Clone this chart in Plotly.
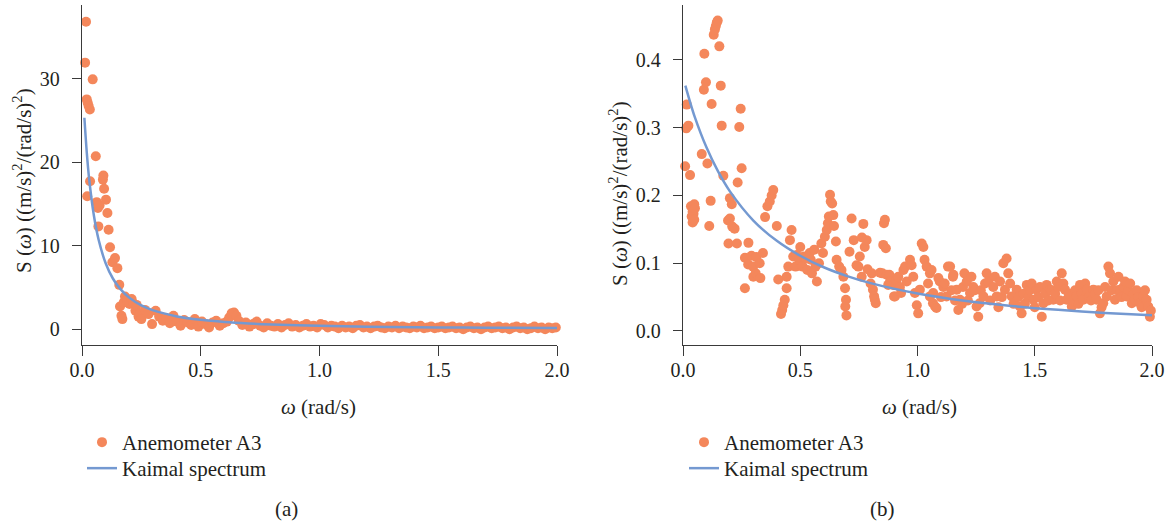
import plotly.graph_objects as go

# ---------------- data ----------------
omega_a = [0.013, 0.017, 0.020, 0.022, 0.024, 0.028, 0.033, 0.034, 0.045, 0.058,
           0.062, 0.067, 0.069, 0.074, 0.088, 0.090, 0.093, 0.101, 0.107, 0.112,
           0.118, 0.128, 0.139, 0.149, 0.157, 0.160, 0.166, 0.170, 0.176, 0.181,
           0.190, 0.200, 0.209, 0.216, 0.225, 0.230, 0.238, 0.244,
           0.250, 0.265, 0.280, 0.295, 0.310, 0.325, 0.340, 0.355, 0.370, 0.385,
           0.400, 0.415, 0.430, 0.445, 0.460, 0.475, 0.490, 0.505, 0.520, 0.535,
           0.550, 0.565, 0.580, 0.595, 0.610, 0.620, 0.630, 0.640, 0.650, 0.660,
           0.675, 0.690, 0.705, 0.720, 0.735, 0.750, 0.765, 0.780, 0.795, 0.810,
           0.825, 0.840, 0.855, 0.870, 0.885, 0.900, 0.915, 0.930, 0.945, 0.960,
           0.975, 0.990, 1.005, 1.020, 1.035, 1.050, 1.065, 1.080, 1.095, 1.110,
           1.125, 1.140, 1.155, 1.170, 1.185, 1.200, 1.215, 1.230, 1.245, 1.260,
           1.275, 1.290, 1.305, 1.320, 1.335, 1.350, 1.365, 1.380, 1.395, 1.410,
           1.425, 1.440, 1.455, 1.470, 1.485, 1.500, 1.515, 1.530, 1.545, 1.560,
           1.575, 1.590, 1.605, 1.620, 1.635, 1.650, 1.665, 1.680, 1.695, 1.710,
           1.725, 1.740, 1.755, 1.770, 1.785, 1.800, 1.815, 1.830, 1.845, 1.860,
           1.875, 1.890, 1.905, 1.920, 1.935, 1.950, 1.965, 1.980, 1.995]
s_a = [31.9, 36.8, 27.5, 15.9, 27.1, 26.7, 26.3, 17.7, 29.9, 20.7,
       15.2, 14.5, 12.3, 14.8, 17.9, 18.4, 16.8, 15.5, 13.9, 11.9,
       9.8, 8.0, 8.5, 7.3, 5.3, 2.7, 1.6, 1.2, 3.2, 3.9,
       3.5, 3.0, 3.6, 3.1, 2.2, 2.9, 1.5, 1.9,
       1.2, 2.3, 1.8, 0.6, 2.2, 1.5, 1.0, 1.3, 0.7, 1.6,
       0.9, 0.4, 1.1, 0.8, 0.5, 1.2, 0.3, 0.9, 0.6, 0.2,
       0.8, 1.0, 0.4, 0.7, 0.9, 1.4, 1.9, 2.0, 1.6, 1.0,
       0.5, 0.8, 0.3, 0.6, 0.9, 0.4, 0.2, 0.7, 0.4, 0.3,
       0.6, 0.2, 0.5, 0.7, 0.3, 0.5, 0.2, 0.4, 0.6, 0.3,
       0.4, 0.2, 0.6, 0.5, 0.2, 0.4, 0.3, 0.1, 0.4, 0.2,
       0.3, 0.1, 0.4, 0.5, 0.2, 0.3, 0.1, 0.3, 0.4, 0.2,
       0.1, 0.3, 0.2, 0.4, 0.1, 0.3, 0.2, 0.1, 0.3, 0.2,
       0.4, 0.1, 0.2, 0.3, 0.1, 0.2, 0.3, 0.1, 0.2, 0.3,
       0.1, 0.2, 0.0, 0.2, 0.3, 0.1, 0.2, 0.0, 0.2, 0.3,
       0.1, 0.2, 0.3, 0.1, 0.2, 0.0, 0.2, 0.3, 0.1, 0.2,
       0.0, 0.1, 0.3, 0.1, 0.2, 0.0, 0.2, 0.1, 0.2]

kaimal_omega_a = [0.01, 0.02, 0.03, 0.05, 0.07, 0.10, 0.13, 0.16, 0.20, 0.25, 0.30,
                  0.40, 0.50, 0.60, 0.70, 0.80, 1.00, 1.20, 1.40, 1.60, 1.80, 2.00]
kaimal_s_a = [25.3, 21.2, 18.0, 13.6, 10.7, 7.86, 6.06, 4.85, 3.74, 2.84, 2.24,
              1.52, 1.11, 0.85, 0.675, 0.55, 0.39, 0.295, 0.231, 0.188, 0.155, 0.131]

omega_b = [0.009, 0.014, 0.016, 0.023, 0.030, 0.034, 0.037, 0.041, 0.041, 0.045,
           0.048, 0.048, 0.051, 0.080, 0.089, 0.091, 0.098, 0.104, 0.112, 0.118,
           0.122, 0.131, 0.136, 0.140, 0.144, 0.148, 0.155, 0.161, 0.165, 0.172,
           0.192, 0.194, 0.200, 0.200, 0.208, 0.210, 0.220, 0.230, 0.233, 0.240,
           0.246, 0.250, 0.264, 0.264, 0.278, 0.279, 0.292, 0.299, 0.300, 0.310,
           0.313, 0.327, 0.330, 0.341, 0.350, 0.360, 0.370, 0.378, 0.385, 0.400,
           0.406, 0.418, 0.423, 0.428, 0.434, 0.442, 0.442, 0.449, 0.456, 0.463,
           0.470, 0.480, 0.485, 0.495, 0.500, 0.510, 0.515, 0.525, 0.530, 0.540,
           0.545, 0.550, 0.560, 0.565, 0.571, 0.580, 0.590, 0.597, 0.605, 0.613,
           0.618, 0.622, 0.627, 0.630, 0.636, 0.641, 0.644, 0.652, 0.655, 0.666,
           0.676, 0.684, 0.691, 0.692, 0.695, 0.697, 0.710, 0.719, 0.728, 0.740,
           0.748, 0.754, 0.762, 0.763, 0.769, 0.775, 0.783, 0.787, 0.800, 0.805,
           0.810, 0.815, 0.818, 0.822, 0.840, 0.850, 0.854, 0.857, 0.861, 0.865,
           0.869, 0.875, 0.880, 0.883, 0.897, 0.900, 0.904, 0.910, 0.918, 0.925,
           0.930, 0.940, 0.947, 0.954, 0.968, 0.975, 0.982, 0.989, 0.997, 1.003,
           1.010, 1.018, 1.025, 1.030, 1.039, 1.045, 1.053, 1.053, 1.060, 1.066,
           1.067, 1.075, 1.081, 1.089, 1.095, 1.100, 1.110, 1.116, 1.124, 1.130,
           1.139, 1.145, 1.151, 1.153, 1.160, 1.167, 1.174, 1.181, 1.190, 1.194,
           1.200, 1.210, 1.215, 1.224, 1.230, 1.238, 1.245, 1.252, 1.259, 1.265,
           1.270, 1.281, 1.288, 1.295, 1.302, 1.310, 1.323, 1.330, 1.338, 1.345,
           1.352, 1.360, 1.366, 1.373, 1.380, 1.387, 1.395, 1.402, 1.410, 1.423,
           1.430, 1.437, 1.444, 1.452, 1.458, 1.466, 1.472, 1.480, 1.487, 1.494,
           1.500, 1.508, 1.515, 1.522, 1.530, 1.537, 1.545, 1.551, 1.558, 1.565,
           1.572, 1.579, 1.587, 1.594, 1.600, 1.608, 1.615, 1.622, 1.629, 1.636,
           1.645, 1.658, 1.665, 1.672, 1.679, 1.686, 1.693, 1.700, 1.707, 1.715,
           1.722, 1.730, 1.740, 1.750, 1.757, 1.764, 1.771, 1.778, 1.785, 1.792,
           1.800, 1.807, 1.814, 1.821, 1.828, 1.835, 1.842, 1.850, 1.857, 1.864,
           1.870, 1.878, 1.885, 1.892, 1.900, 1.907, 1.914, 1.921, 1.928, 1.935,
           1.942, 1.949, 1.956, 1.963, 1.970, 1.977, 1.984, 1.991, 1.995]
s_b = [0.243, 0.299, 0.334, 0.303, 0.230, 0.184, 0.169, 0.176, 0.160, 0.173,
       0.187, 0.164, 0.181, 0.261, 0.356, 0.409, 0.367, 0.247, 0.155, 0.192,
       0.335, 0.437, 0.445, 0.450, 0.455, 0.458, 0.420, 0.362, 0.303, 0.229,
       0.163, 0.129, 0.196, 0.166, 0.187, 0.154, 0.151, 0.129, 0.219, 0.301,
       0.328, 0.240, 0.108, 0.063, 0.098, 0.130, 0.111, 0.095, 0.080, 0.085,
       0.109, 0.100, 0.078, 0.115, 0.168, 0.184, 0.191, 0.200, 0.208, 0.155,
       0.076, 0.025, 0.031, 0.038, 0.046, 0.063, 0.080, 0.095, 0.134, 0.149,
       0.110, 0.095, 0.112, 0.105, 0.124, 0.095, 0.110, 0.107, 0.090, 0.115,
       0.105, 0.085, 0.120, 0.095, 0.073, 0.100, 0.129, 0.115, 0.139, 0.149,
       0.159, 0.169, 0.201, 0.191, 0.188, 0.171, 0.155, 0.132, 0.105, 0.095,
       0.090, 0.080, 0.063, 0.036, 0.046, 0.023, 0.117, 0.166, 0.134, 0.097,
       0.095, 0.110, 0.080, 0.138, 0.158, 0.124, 0.134, 0.091, 0.070, 0.085,
       0.061, 0.051, 0.046, 0.041, 0.086, 0.085, 0.127, 0.159, 0.164, 0.122,
       0.083, 0.068, 0.083, 0.073, 0.068, 0.051, 0.051, 0.075, 0.080, 0.065,
       0.056, 0.090, 0.095, 0.073, 0.105, 0.097, 0.080, 0.056, 0.038, 0.026,
       0.061, 0.129, 0.124, 0.105, 0.095, 0.070, 0.085, 0.051, 0.090, 0.041,
       0.056, 0.036, 0.034, 0.078, 0.073, 0.050, 0.065, 0.070, 0.051, 0.095,
       0.095, 0.060, 0.080, 0.083, 0.045, 0.061, 0.031, 0.046, 0.040, 0.065,
       0.085, 0.073, 0.045, 0.056, 0.080, 0.065, 0.060, 0.036, 0.021, 0.041,
       0.060, 0.051, 0.070, 0.085, 0.073, 0.045, 0.065, 0.080, 0.051, 0.035,
       0.073, 0.050, 0.100, 0.061, 0.107, 0.085, 0.070, 0.051, 0.040, 0.061,
       0.050, 0.036, 0.026, 0.055, 0.040, 0.068, 0.050, 0.061, 0.070, 0.046,
       0.035, 0.061, 0.050, 0.065, 0.021, 0.041, 0.055, 0.068, 0.045, 0.061,
       0.060, 0.046, 0.055, 0.073, 0.065, 0.045, 0.085, 0.070, 0.061, 0.046,
       0.055, 0.036, 0.045, 0.060, 0.051, 0.040, 0.068, 0.055, 0.046, 0.070,
       0.061, 0.050, 0.045, 0.061, 0.055, 0.046, 0.060, 0.026, 0.035, 0.041,
       0.065, 0.051, 0.095, 0.085, 0.060, 0.073, 0.046, 0.060, 0.080, 0.061,
       0.050, 0.065, 0.073, 0.051, 0.060, 0.070, 0.041, 0.055, 0.046, 0.060,
       0.050, 0.041, 0.035, 0.051, 0.060, 0.046, 0.036, 0.021, 0.030]

kaimal_omega_b = [0.01, 0.03, 0.05, 0.10, 0.15, 0.20, 0.30, 0.40, 0.50, 0.60,
                  0.70, 0.80, 1.00, 1.20, 1.40, 1.60, 1.80, 2.00]
kaimal_s_b = [0.362, 0.338, 0.316, 0.271, 0.235, 0.206, 0.163, 0.133, 0.111, 0.094,
              0.081, 0.0706, 0.0553, 0.0446, 0.0369, 0.0312, 0.0267, 0.0232]

x_ticks = [0.0, 0.5, 1.0, 1.5, 2.0]
y_ticks_a = [0, 10, 20, 30]
y_ticks_b = [0.0, 0.1, 0.2, 0.3, 0.4]

# ---------------- styling ----------------
W, H = 1171, 523
ORANGE = "#F4875B"
BLUE = "#7499D1"
TXT = "#231F20"
FONT = "Liberation Serif"
FS_TICK = 20
FS_TEXT = 21

def px(x):
    return x / W

def py(y):
    return 1 - y / H

fig = go.Figure()

fig.add_trace(go.Scatter(x=omega_a, y=s_a, mode="markers", name="Anemometer A3",
                         marker=dict(color=ORANGE, size=10, line=dict(width=0)),
                         cliponaxis=False, xaxis="x", yaxis="y", legend="legend"))
fig.add_trace(go.Scatter(x=kaimal_omega_a, y=kaimal_s_a, mode="lines", name="Kaimal spectrum",
                         line=dict(color=BLUE, width=2.5, shape="spline", smoothing=0.8),
                         xaxis="x", yaxis="y", legend="legend2"))
fig.add_trace(go.Scatter(x=omega_b, y=s_b, mode="markers", name="Anemometer A3",
                         marker=dict(color=ORANGE, size=10, line=dict(width=0)),
                         cliponaxis=False, xaxis="x2", yaxis="y2", legend="legend3"))
fig.add_trace(go.Scatter(x=kaimal_omega_b, y=kaimal_s_b, mode="lines", name="Kaimal spectrum",
                         line=dict(color=BLUE, width=2.5, shape="spline", smoothing=0.8),
                         xaxis="x2", yaxis="y2", legend="legend4"))

ax_common = dict(showline=True, linecolor="#3a3a3a", linewidth=1.3, ticks="outside",
                 tickcolor="#3a3a3a", tickwidth=1.2, showgrid=False, zeroline=False,
                 automargin=False, tickfont=dict(family=FONT, size=FS_TICK, color=TXT))

ydom = [py(345), py(5)]
leg_common = dict(xanchor="left", yanchor="top", font=dict(family=FONT, size=FS_TEXT, color=TXT),
                  bgcolor="rgba(0,0,0,0)", itemwidth=30)
LEG_L, LEG_R = 82, 684
ROW1, ROW2 = 422, 448
fig.update_layout(
    width=W, height=H, margin=dict(l=0, r=0, t=0, b=0, autoexpand=False),
    paper_bgcolor="white", plot_bgcolor="white",
    font=dict(family=FONT, size=FS_TEXT, color=TXT),
    xaxis=dict(domain=[px(82), px(557)], range=[0, 2], tickvals=x_ticks,
               ticktext=["%.1f" % v for v in x_ticks], ticklen=10, anchor="y",
               ticklabelstandoff=-3, **ax_common),
    yaxis=dict(domain=ydom, range=[-1.9, 38.8], tickvals=y_ticks_a,
               ticktext=[str(v) for v in y_ticks_a], ticklen=9, anchor="x",
               ticklabelstandoff=8, **ax_common),
    xaxis2=dict(domain=[px(683), px(1152)], range=[0, 2], tickvals=x_ticks,
                ticktext=["%.1f" % v for v in x_ticks], ticklen=10, anchor="y2",
                ticklabelstandoff=-3, **ax_common),
    yaxis2=dict(domain=ydom, range=[-0.0207, 0.481], tickvals=y_ticks_b,
                ticktext=["%.1f" % v for v in y_ticks_b], ticklen=9, anchor="x2",
                ticklabelstandoff=8, **ax_common),
    legend=dict(x=px(LEG_L), y=py(ROW1), **leg_common),
    legend2=dict(x=px(LEG_L), y=py(ROW2), **leg_common),
    legend3=dict(x=px(LEG_R), y=py(ROW1), **leg_common),
    legend4=dict(x=px(LEG_R), y=py(ROW2), **leg_common),
    showlegend=True,
)

ytitle = "S (<i>ω</i>) ((m/s)<sup>2</sup>/(rad/s)<sup>2</sup>)"
xtitle = "<i>ω</i> (rad/s)"
ann = [
    dict(x=px(22), y=py(181), text=ytitle, textangle=-90),
    dict(x=px(618), y=py(194), text=ytitle, textangle=-90),
    dict(x=px(318), y=py(407), text=xtitle),
    dict(x=px(919), y=py(407), text=xtitle),
    dict(x=px(286), y=py(509), text="(a)"),
    dict(x=px(882), y=py(509), text="(b)"),
]
for a in ann:
    fig.add_annotation(xref="paper", yref="paper", showarrow=False,
                       xanchor="center", yanchor="middle",
                       font=dict(family=FONT, size=FS_TEXT, color=TXT), **a)

fig.write_html("out.html")
